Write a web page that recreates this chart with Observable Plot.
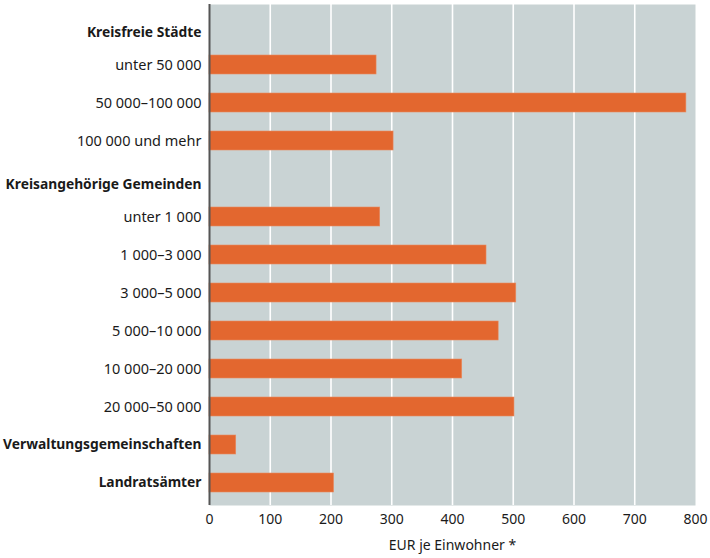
<!DOCTYPE html>
<html>
<head>
<meta charset="utf-8">
<script src="https://cdn.jsdelivr.net/npm/d3@7"></script>
<script src="https://cdn.jsdelivr.net/npm/@observablehq/plot@0.6"></script>
<style>
  html, body { margin: 0; padding: 0; background: #ffffff; }
  svg { font-family: "Noto Sans", sans-serif; }
</style>
</head>
<body>
<div id="chart"></div>
<script>
const categories = [
  "Kreisfreie Städte",
  "unter 50 000",
  "50 000–100 000",
  "100 000 und mehr",
  "Kreisangehörige Gemeinden",
  "unter 1 000",
  "1 000–3 000",
  "3 000–5 000",
  "5 000–10 000",
  "10 000–20 000",
  "20 000–50 000",
  "Verwaltungsgemeinschaften",
  "Landratsämter"
];
const values = [null, 275, 785, 303, null, 281, 456, 505, 476, 416, 502, 44, 205];
const headers = ["Kreisfreie Städte", "Kreisangehörige Gemeinden"];
const boldLabels = ["Verwaltungsgemeinschaften", "Landratsämter"];
const xTicks = [0, 100, 200, 300, 400, 500, 600, 700, 800];
const gridTicks = [100, 200, 300, 400, 500, 600, 700];
const xLabel = "EUR je Einwohner *";

const rows = categories.map((c, i) => ({category: c, value: values[i]}));
const bars = rows.filter(d => d.value != null);
const headerRows = rows.filter(d => headers.includes(d.category));
const boldRows = rows.filter(d => boldLabels.includes(d.category));
const plainRows = rows.filter(d => !headers.includes(d.category) && !boldLabels.includes(d.category));

const chart = Plot.plot({
  width: 710,
  height: 558,
  marginLeft: 209,
  marginRight: 15,
  marginTop: 4,
  marginBottom: 53,
  style: {fontSize: "14px", fontFamily: "'Noto Sans', sans-serif", color: "#1a1a1a"},
  x: {domain: [0, 800], ticks: xTicks, tickSize: 0, tickPadding: 9, label: null},
  y: {domain: categories, paddingInner: 0.5, paddingOuter: 0.25, axis: null},
  marks: [
    Plot.frame({fill: "#c9d3d4", stroke: null}),
    Plot.gridX(gridTicks, {stroke: "#ffffff", strokeOpacity: 1, strokeWidth: 1.6}),
    Plot.barX(bars, {x: "value", y: "category", fill: "#e3672f", stroke: "#e88a60", strokeWidth: 0.6}),
    Plot.ruleX([0], {stroke: "#555555", strokeWidth: 2}),
    Plot.text(plainRows, {x: 0, y: "category", text: "category", textAnchor: "end", dx: -8, fill: "#1a1a1a", fontSize: 14.5}),
    Plot.text(boldRows, {x: 0, y: "category", text: "category", textAnchor: "end", dx: -8, fill: "#1a1a1a", fontSize: 13.8, fontWeight: "bold"}),
    Plot.text(headerRows, {x: 0, y: "category", text: "category", textAnchor: "end", dx: -8, dy: 6, fill: "#1a1a1a", fontSize: 13.8, fontWeight: "bold"}),
    Plot.text([xLabel], {frameAnchor: "bottom", dy: 44, fill: "#1a1a1a", fontSize: 14})
  ]
});
document.getElementById("chart").append(chart);
</script>
</body>
</html>
